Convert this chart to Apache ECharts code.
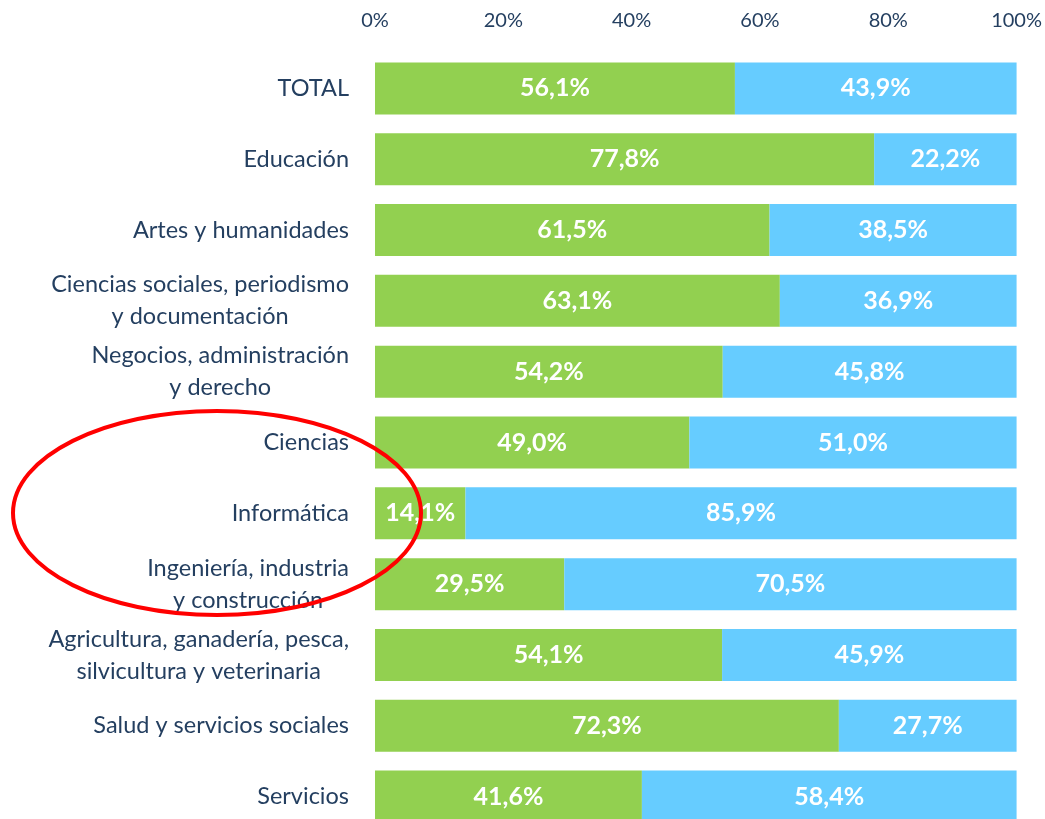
<!DOCTYPE html>
<html>
<head>
<meta charset="utf-8">
<script src="https://cdn.jsdelivr.net/npm/echarts@6/dist/echarts.min.js"></script>
<style>
html,body{margin:0;padding:0;background:#fff;overflow:hidden;}
#chart{width:1045px;height:840px;}
</style>
</head>
<body>
<div id="chart"></div>
<script>
const categories = [
  'TOTAL',
  'Educación',
  'Artes y humanidades',
  'Ciencias sociales, periodismo\ny documentación',
  'Negocios, administración\ny derecho',
  'Ciencias',
  'Informática',
  'Ingeniería, industria\ny construcción',
  'Agricultura, ganadería, pesca,\nsilvicultura y veterinaria',
  'Salud y servicios sociales',
  'Servicios'
];
const greenValues = [56.1, 77.8, 61.5, 63.1, 54.2, 49.0, 14.1, 29.5, 54.1, 72.3, 41.6];
const blueValues = [43.9, 22.2, 38.5, 36.9, 45.8, 51.0, 85.9, 70.5, 45.9, 27.7, 58.4];
const tickLabels = ['0%', '20%', '40%', '60%', '80%', '100%'];

const FONT = 'Lato';
const NAVY = '#243f60';
const fmt = p => p.value.toFixed(1).replace('.', ',') + '%';
const chart = echarts.init(document.getElementById('chart'));
chart.setOption({
  animation: false,
  textStyle: { fontFamily: FONT },
  grid: { left: 375, right: 28, top: 53, height: 779, containLabel: false },
  xAxis: {
    type: 'value', position: 'top', min: 0, max: 100, interval: 20,
    axisLine: { show: false }, axisTick: { show: false }, splitLine: { show: false },
    axisLabel: {
      margin: 22, color: NAVY, fontSize: 20, fontFamily: FONT,
      formatter: v => tickLabels[Math.round(v / 20)]
    }
  },
  yAxis: {
    type: 'category', inverse: true, data: categories,
    axisLine: { show: false }, axisTick: { show: false },
    axisLabel: {
      margin: 26, color: NAVY, fontSize: 23.5, lineHeight: 32, fontFamily: FONT,
      formatter: v => v.split('\n').map(s => '{c|' + s + '}').join('\n'),
      rich: { c: { align: 'center', color: NAVY, fontSize: 23.5, lineHeight: 32, fontFamily: FONT } }
    }
  },
  series: [
    {
      type: 'bar', stack: 's', data: greenValues, barWidth: 52,
      itemStyle: { color: '#92D050' },
      label: { show: true, position: 'inside', color: '#fff', fontWeight: 'bold', fontSize: 25, fontFamily: FONT, formatter: fmt }
    },
    {
      type: 'bar', stack: 's', data: blueValues, barWidth: 52,
      itemStyle: { color: '#66CCFF' },
      label: { show: true, position: 'inside', color: '#fff', fontWeight: 'bold', fontSize: 25, fontFamily: FONT, formatter: fmt }
    }
  ],
  graphic: [{
    type: 'ellipse', z: 100,
    shape: { cx: 217, cy: 513, rx: 204, ry: 102 },
    style: { fill: 'none', stroke: '#ff0000', lineWidth: 4 }
  }]
});
</script>
</body>
</html>
